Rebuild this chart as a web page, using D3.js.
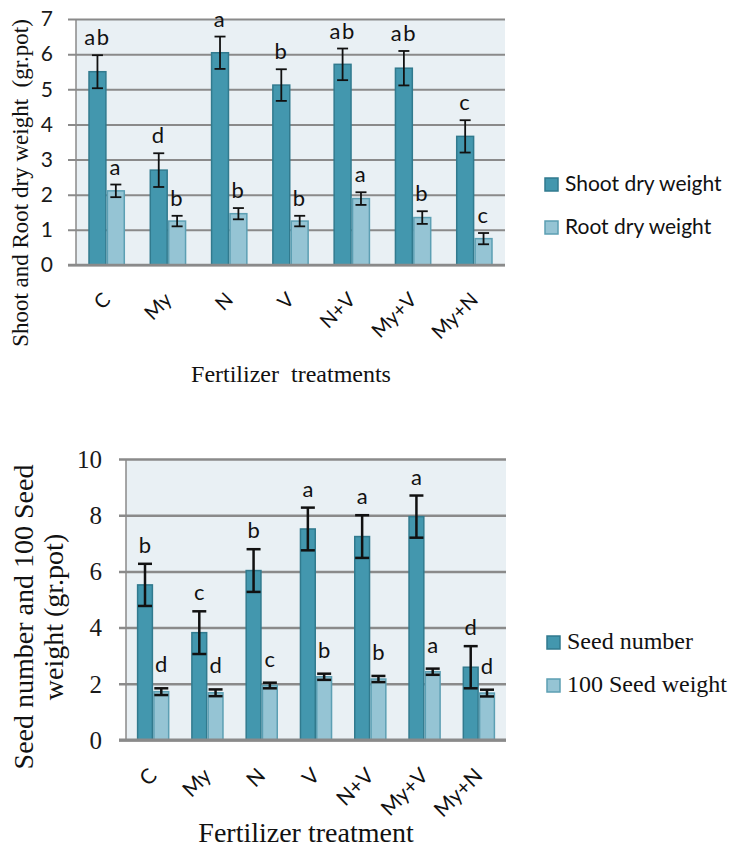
<!DOCTYPE html>
<html>
<head>
<meta charset="utf-8">
<script src="https://cdn.jsdelivr.net/npm/d3@7"></script>
<style>
  html, body { margin: 0; padding: 0; background: #ffffff; }
  svg { display: block; }
</style>
</head>
<body>
<svg id="chart" width="729" height="862"></svg>
<script>
// ---------- DATA ----------
const categories = ["C", "My", "N", "V", "N+V", "My+V", "My+N"];

const shootDryWeight = [5.50, 2.70, 6.04, 5.12, 5.71, 5.60, 3.66];
const shootDryErr    = [0.47, 0.48, 0.46, 0.45, 0.45, 0.49, 0.46];
const shootLetters   = ["ab", "d", "a", "b", "ab", "ab", "c"];

const rootDryWeight  = [2.11, 1.25, 1.46, 1.25, 1.89, 1.35, 0.75];
const rootDryErr     = [0.18, 0.15, 0.16, 0.15, 0.18, 0.18, 0.16];
const rootLetters    = ["a", "b", "b", "b", "a", "b", "c"];

const seedNumber        = [5.52, 3.82, 6.03, 7.51, 7.24, 7.95, 2.59];
const seedNumberErr     = [0.75, 0.76, 0.76, 0.76, 0.76, 0.75, 0.75];
const seedNumberLetters = ["b", "c", "b", "a", "a", "a", "d"];

const seedWeight        = [1.72, 1.68, 1.94, 2.25, 2.17, 2.43, 1.67];
const seedWeightErr     = [0.12, 0.12, 0.10, 0.11, 0.11, 0.11, 0.12];
const seedWeightLetters = ["d", "d", "c", "b", "b", "a", "d"];

const topTicks    = [0, 1, 2, 3, 4, 5, 6, 7];
const bottomTicks = [0, 2, 4, 6, 8, 10];

const topSeriesNames    = ["Shoot dry weight", "Root dry weight"];
const bottomSeriesNames = ["Seed number", "100 Seed weight"];

// ---------- STYLE ----------
const DARK_FILL = "#4397ae", DARK_STROKE = "#317a8e";
const LIGHT_FILL = "#95c4d4", LIGHT_STROKE = "#5c9fb3";
const PLOT_BG = "#e9f0f4", GRID = "#8a8a8a";
const SANS = "Lato, 'Open Sans', sans-serif";
const SERIF = "'Liberation Serif', 'DejaVu Serif', serif";

const svg = d3.select("#chart");

function drawChart(cfg) {
  const g = svg.append("g");
  const x = d3.scaleBand().domain(categories)
    .range([cfg.left, cfg.right]).paddingInner(0.4).paddingOuter(0.2);
  const sub = d3.scaleBand().domain([0, 1]).range([0, x.bandwidth()]);
  const y = d3.scaleLinear().domain([0, cfg.max]).range([cfg.bottom, cfg.top]);

  // plot background
  g.append("rect")
    .attr("x", cfg.left).attr("y", cfg.top)
    .attr("width", cfg.right - cfg.left).attr("height", cfg.bottom - cfg.top)
    .attr("fill", PLOT_BG);

  // gridlines + tick marks via axis
  const yAxis = d3.axisLeft(y).tickValues(cfg.ticks)
    .tickSize(-(cfg.right - cfg.left)).tickFormat("");
  const ga = g.append("g").attr("transform", `translate(${cfg.left},0)`).call(yAxis);
  ga.select(".domain").remove();
  ga.selectAll(".tick line").attr("stroke", GRID).attr("stroke-width", cfg.gridW)
    .attr("x1", -cfg.tickLen);

  // left axis line
  g.append("line").attr("x1", cfg.left).attr("x2", cfg.left)
    .attr("y1", cfg.top).attr("y2", cfg.bottom)
    .attr("stroke", GRID).attr("stroke-width", 1.5);

  // tick labels
  g.selectAll(".ytl").data(cfg.ticks).enter().append("text")
    .attr("x", cfg.left - cfg.tickLen - cfg.labelGap)
    .attr("y", d => y(d)).attr("dy", "0.35em")
    .attr("text-anchor", "end")
    .attr("font-family", cfg.tickFont).attr("font-size", cfg.tickSize)
    .attr("fill", "#1a1a1a")
    .text(d => d);

  const series = [
    { vals: cfg.s1, err: cfg.e1, let: cfg.l1, fill: DARK_FILL, stroke: DARK_STROKE, off: cfg.off1 },
    { vals: cfg.s2, err: cfg.e2, let: cfg.l2, fill: LIGHT_FILL, stroke: LIGHT_STROKE, off: cfg.off2 }
  ];

  series.forEach((s, si) => {
    const data = categories.map((c, i) => ({ c, v: s.vals[i], e: s.err[i], l: s.let[i] }));
    const bx = d => x(d.c) + sub(si);
    const bw = sub.bandwidth();
    g.selectAll(null).data(data).enter().append("rect")
      .attr("x", d => bx(d) + 0.75).attr("y", d => y(d.v))
      .attr("width", bw - 1.5).attr("height", d => y(0) - y(d.v))
      .attr("fill", s.fill).attr("stroke", s.stroke).attr("stroke-width", 1.5);
    // error bars
    const eg = g.selectAll(null).data(data).enter().append("g")
      .attr("stroke", "#111").attr("stroke-width", cfg.errW);
    eg.append("line")
      .attr("x1", d => bx(d) + bw / 2).attr("x2", d => bx(d) + bw / 2)
      .attr("y1", d => y(d.v + d.e)).attr("y2", d => y(d.v - d.e));
    eg.append("line")
      .attr("x1", d => bx(d) + bw / 2 - cfg.capW / 2).attr("x2", d => bx(d) + bw / 2 + cfg.capW / 2)
      .attr("y1", d => y(d.v + d.e)).attr("y2", d => y(d.v + d.e));
    eg.append("line")
      .attr("x1", d => bx(d) + bw / 2 - cfg.capW / 2).attr("x2", d => bx(d) + bw / 2 + cfg.capW / 2)
      .attr("y1", d => y(d.v - d.e)).attr("y2", d => y(d.v - d.e));
    // letters
    g.selectAll(null).data(data).enter().append("text")
      .attr("x", d => bx(d) + bw / 2)
      .attr("y", d => y(d.v + d.e) - s.off)
      .attr("text-anchor", "middle")
      .attr("font-family", SANS).attr("font-size", cfg.letterSize)
      .attr("letter-spacing", cfg.letterSpacing)
      .attr("fill", "#111")
      .text(d => d.l);
  });

  // baseline
  g.append("line").attr("x1", cfg.left - cfg.tickLen).attr("x2", cfg.right)
    .attr("y1", cfg.bottom).attr("y2", cfg.bottom)
    .attr("stroke", GRID).attr("stroke-width", cfg.gridW + 0.5);

  // category labels
  g.selectAll(null).data(categories).enter().append("text")
    .attr("text-anchor", "end")
    .attr("transform", d => `translate(${x(d) + x.bandwidth() / 2 + cfg.catDx},${cfg.bottom + cfg.catDy}) rotate(-45)`)
    .attr("font-family", SANS).attr("font-size", cfg.catSize)
    .attr("fill", "#111")
    .text(d => d);

  // x title
  g.append("text").attr("x", cfg.xTitleX).attr("y", cfg.xTitleY)
    .attr("text-anchor", "middle")
    .attr("font-family", SERIF).attr("font-size", cfg.xTitleSize)
    .attr("fill", "#111").style("white-space", "pre")
    .text(cfg.xTitle);

  // y title
  cfg.yTitle.forEach((line, i) => {
    g.append("text")
      .attr("transform", `translate(${cfg.yTitleX[i]},${cfg.yTitleY}) rotate(-90)`)
      .attr("text-anchor", "middle")
      .attr("font-family", SERIF).attr("font-size", cfg.yTitleSize)
      .attr("fill", "#111").style("white-space", "pre")
      .text(line);
  });

  // legend
  cfg.names.forEach((name, i) => {
    const ly = cfg.legY[i];
    g.append("rect").attr("x", cfg.legX).attr("y", ly - cfg.legBox)
      .attr("width", cfg.legBox).attr("height", cfg.legBox)
      .attr("fill", i === 0 ? DARK_FILL : LIGHT_FILL)
      .attr("stroke", i === 0 ? DARK_STROKE : LIGHT_STROKE).attr("stroke-width", 1.5);
    g.append("text").attr("x", cfg.legX + cfg.legBox + 7).attr("y", ly)
      .attr("font-family", cfg.legFont).attr("font-size", cfg.legSize)
      .attr("fill", "#111")
      .text(name);
  });
}

drawChart({
  left: 76, right: 505, top: 19, bottom: 265, max: 7, ticks: topTicks,
  gridW: 2, tickLen: 8, labelGap: 15, tickFont: SANS, tickSize: 21,
  s1: shootDryWeight, e1: shootDryErr, l1: shootLetters, off1: 10,
  s2: rootDryWeight, e2: rootDryErr, l2: rootLetters, off2: 10,
  errW: 1.8, capW: 11, letterSize: 22, letterSpacing: 1.5,
  catDx: 5, catDy: 36, catSize: 20,
  xTitle: "Fertilizer  treatments", xTitleX: 291, xTitleY: 382, xTitleSize: 24,
  yTitle: ["Shoot and Root dry weight  (gr.pot)"], yTitleX: [28], yTitleY: 183, yTitleSize: 23,
  names: topSeriesNames, legX: 545, legY: [191, 234], legBox: 13, legFont: SANS, legSize: 21
});

drawChart({
  left: 126, right: 506, top: 459, bottom: 740, max: 10, ticks: bottomTicks,
  gridW: 2.5, tickLen: 7, labelGap: 17, tickFont: SERIF, tickSize: 25,
  s1: seedNumber, e1: seedNumberErr, l1: seedNumberLetters, off1: 11,
  s2: seedWeight, e2: seedWeightErr, l2: seedWeightLetters, off2: 16,
  errW: 2.5, capW: 14, letterSize: 22, letterSpacing: 0,
  catDx: 5, catDy: 37, catSize: 21,
  xTitle: "Fertilizer treatment", xTitleX: 306, xTitleY: 842, xTitleSize: 28,
  yTitle: ["Seed number and 100 Seed", "weight (gr.pot)"], yTitleX: [33, 63], yTitleY: 617, yTitleSize: 28,
  names: bottomSeriesNames, legX: 547, legY: [649, 692], legBox: 13, legFont: SERIF, legSize: 24
});
</script>
</body>
</html>
